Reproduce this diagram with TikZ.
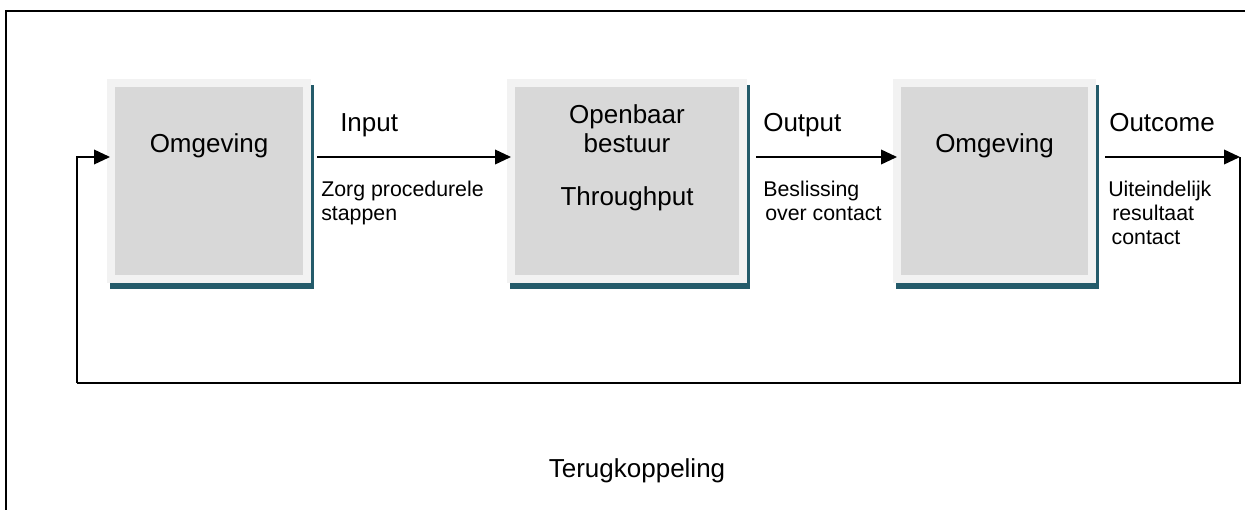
\documentclass[tikz,border=0pt]{standalone}
\usepackage{fontspec}
\setmainfont{Liberation Sans}
\usepackage{tikz}
\usetikzlibrary{positioning, arrows.meta, calc, shadows}
\usepackage{xcolor}
\definecolor{rand}{HTML}{F2F2F2}
\definecolor{binnen}{HTML}{D8D8D8}
\definecolor{schaduw}{HTML}{245B6A}

\begin{document}
\begin{tikzpicture}[x=0.75pt, y=-0.75pt,
  blok/.style={fill=rand, minimum height=153pt, inner sep=0pt, outer sep=0pt,
    drop shadow={shadow xshift=2.25pt, shadow yshift=-4.5pt, fill=schaduw, opacity=1},
    path picture={\fill[binnen] ([shift={(6pt,-6pt)}]path picture bounding box.north west)
      rectangle ([shift={(-6pt,6pt)}]path picture bounding box.south east);}},
  groot/.style={font=\fontsize{19.5}{21.75}\selectfont, inner sep=0pt, align=center},
  klein/.style={font=\fontsize{16}{18}\selectfont, inner sep=0pt, align=left, anchor=base west},
  pijl/.style={-{Triangle[length=12pt, width=11pt]}, line width=1.2pt},
  lijn/.style={line width=1.2pt}]
\useasboundingbox (0,0) rectangle (1245,510);
\draw[line width=1.8pt] (6,520) -- (6,11) -- (1260,11);
\node[blok, minimum width=153pt] (omg1) at (209,181) {};
\node[blok, minimum width=180pt] (bestuur) at (627,181) {};
\node[blok, minimum width=152.25pt] (omg2) at (994.5,181) {};
\node[groot, anchor=base] (t1) at (209,152) {Omgeving};
\node[groot, anchor=base] (t2) at (627,205) {Openbaar\\bestuur\\[18pt]Throughput};
\node[groot, anchor=base] (t3) at (994.5,152) {Omgeving};
\node[groot, anchor=base west] (input) at (340,131) {Input};
\node[groot, anchor=base west] (output) at (763,131) {Output};
\node[groot, anchor=base west] (outcome) at (1109,131) {Outcome};
\node[klein] (zorg) at (321,220) {Zorg procedurele\\stappen};
\node[klein] (besl) at (763,220) {Beslissing\\\hspace{1.5pt}over contact};
\node[klein] (uit) at (1108,244) {Uiteindelijk\\\hspace{3pt}resultaat\\\hspace{2.5pt}contact};
\node[groot, anchor=base] (terug) at (637,477) {Terugkoppeling};
\coordinate (eind) at (1240,157);
\coordinate (hoek) at (77,383);
\draw[pijl, shorten <=4.5pt, shorten >=-3pt] ([yshift=18pt]omg1.east) -- ([yshift=18pt]bestuur.west);
\draw[pijl, shorten <=6.75pt, shorten >=-3pt] ([yshift=18pt]bestuur.east) -- ([yshift=18pt]omg2.west);
\draw[pijl, shorten <=6.75pt] ([yshift=18pt]omg2.east) -- (eind);
\draw[lijn] (eind) -- (eind |- hoek) -- (hoek);
\draw[pijl, shorten >=-2.25pt] (hoek) -- (hoek |- eind) -- ([yshift=18pt]omg1.west);
\end{tikzpicture}
\end{document}
